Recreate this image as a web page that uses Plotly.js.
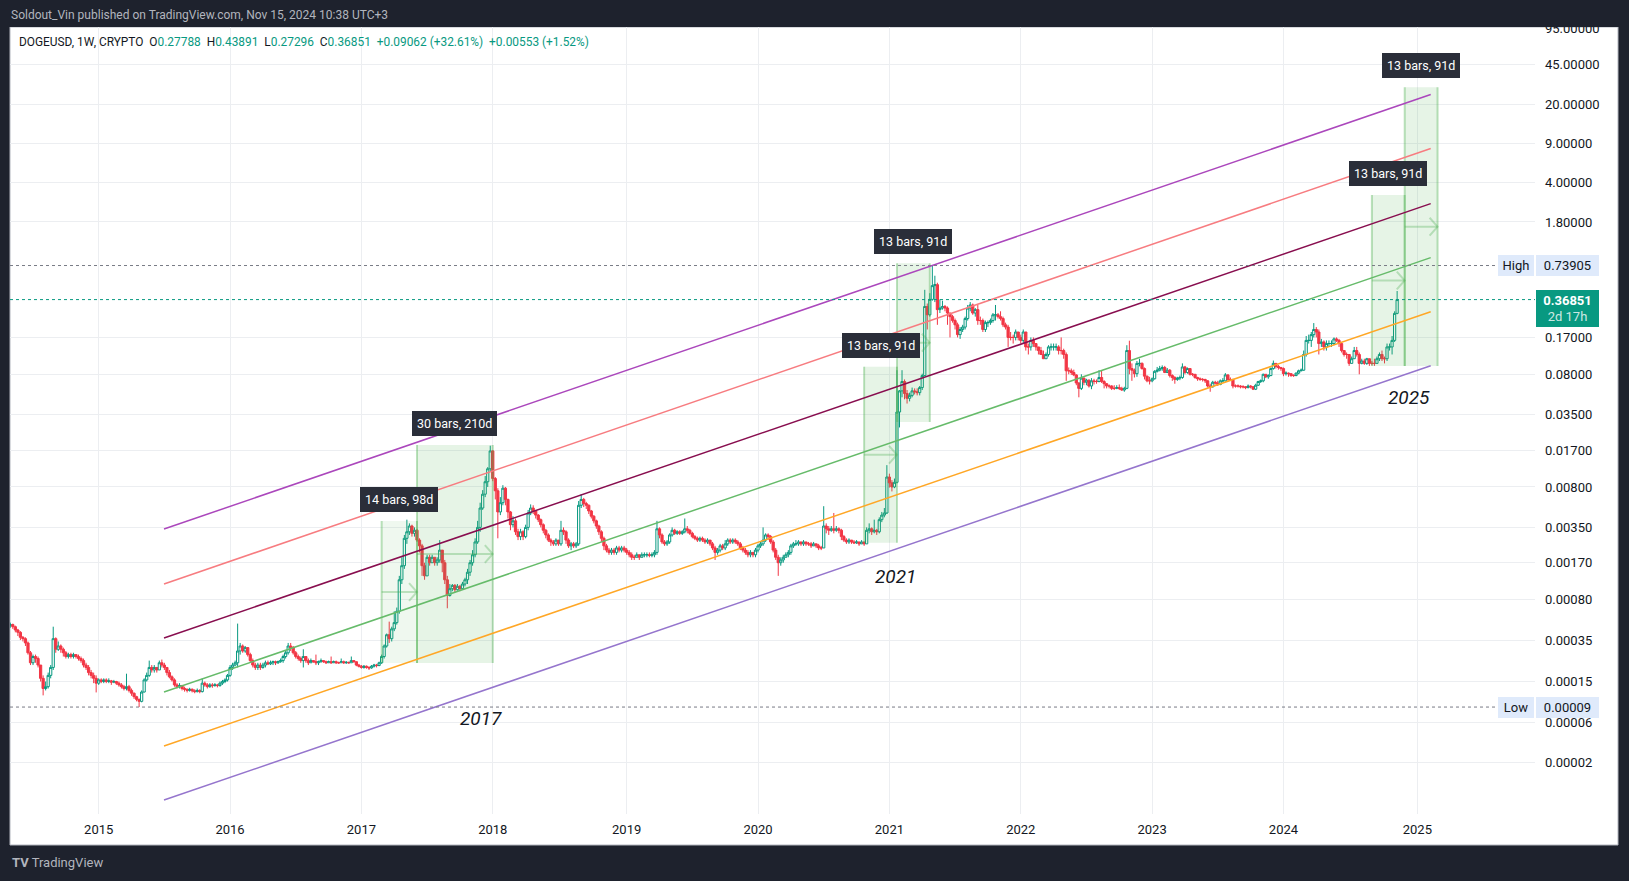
<!DOCTYPE html>
<html>
<head>
<meta charset="utf-8">
<script src="https://cdn.plot.ly/plotly-3.0.1.min.js"></script>
<style>
html,body{margin:0;padding:0;background:#1e222d;overflow:hidden;}
#chart{width:1629px;height:881px;}
</style>
</head>
<body>
<div id="chart"></div>
<script>
// ---------------- DATA ----------------
const publishedText = 'Soldout_Vin published on TradingView.com, Nov 15, 2024 10:38 UTC+3';
const symbolTitle = 'DOGEUSD, 1W, CRYPTO';
const headerKeys = ['O', 'H', 'L', 'C'];
const headerVals = ['0.27788', '0.43891', '0.27296', '0.36851'];
const changeText = ['+0.09062 (+32.61%)', '+0.00553 (+1.52%)'];
const countdownText = '2d 17h';

const weekStart = '2014-04-28';   // first weekly bar (Monday)
const firstOpen = 0.0005;

const close = [
0.00047,0.00048,0.00046,0.00043,0.00041,0.00037,0.00036,0.00033,0.00027,0.00022,
0.00025,0.00024,0.00021,0.00016,0.00013,0.000135,0.00017,0.0002,0.00036,0.00029,
0.00031,0.00029,0.00027,0.00025,0.00026,0.00025,0.00026,0.00025,0.00024,0.00023,
0.00021,0.0002,0.00018,0.00017,0.00016,0.000145,0.000155,0.00015,0.000155,0.00015,
0.000152,0.000148,0.00015,0.000145,0.00014,0.000135,0.00013,0.000135,0.000125,0.000118,
0.00011,0.000104,0.0001,0.000121,0.000155,0.00017,0.0002,0.00019,0.0002,0.00019,
0.00022,0.00021,0.0002,0.00018,0.000165,0.000155,0.00014,0.000135,0.000138,0.00013,
0.000128,0.000125,0.000128,0.000124,0.000122,0.000125,0.000122,0.000145,0.00014,0.000135,
0.00014,0.000138,0.00014,0.000138,0.000145,0.00015,0.000155,0.00017,0.0002,0.00021,
0.00022,0.00028,0.00031,0.00028,0.0003,0.00026,0.00023,0.00021,0.0002,0.00021,0.0002,
0.00021,0.00022,0.000215,0.00022,0.000225,0.00022,0.000225,0.00023,0.00025,0.00027,
0.00031,0.0003,0.00027,0.00025,0.00024,0.00023,0.00025,0.00023,0.00022,0.00023,
0.000225,0.00022,0.000225,0.00023,0.000225,0.00022,0.000225,0.00022,0.000225,0.00022,
0.00022,0.000225,0.00022,0.000222,0.00022,0.00023,0.000225,0.00021,0.000205,
0.0002,0.000205,0.0002,0.000198,0.000205,0.00021,0.000208,0.00022,0.00025,0.00031,
0.00039,0.00036,0.00044,0.0005,0.00063,0.0012,0.0016,0.0028,0.0032,0.0036,
0.0031,0.0033,0.0027,0.0024,0.0016,0.0013,0.0019,0.0017,0.0019,0.0017,
0.0018,0.0022,0.0017,0.0012,0.00087,0.001,0.00107,0.00098,0.00105,0.001,
0.0011,0.0012,0.0014,0.0017,0.002,0.0026,0.0035,0.0052,0.0069,0.0089,
0.0116,0.0167,0.0095,0.0074,0.0048,0.0058,0.0078,0.0062,0.0048,0.0037,
0.004,0.0032,0.0029,0.0032,0.0029,0.0035,0.0047,0.0052,0.0049,0.0045,
0.0041,0.0037,0.0033,0.003,0.0027,0.0026,0.0025,0.0027,0.0025,0.0033,
0.0032,0.0027,0.0024,0.0025,0.0024,0.0025,0.0055,0.0062,0.0057,0.0055,
0.0049,0.0044,0.004,0.0036,0.0032,0.0028,0.0024,0.0022,0.0021,0.0022,
0.0021,0.0023,0.0022,0.0023,0.0022,0.0021,0.002,0.0019,0.0019,0.002,
0.0019,0.002,0.002,0.002,0.00198,0.002,0.0021,0.0034,0.003,0.0026,
0.0025,0.0026,0.003,0.0033,0.0031,0.0032,0.0031,0.0032,0.0034,0.0033,
0.0031,0.0029,0.0028,0.0027,0.0028,0.0027,0.0026,0.0027,0.0025,0.0023,
0.0021,0.0022,0.0024,0.0023,0.0025,0.0027,0.0026,0.0027,0.0026,0.0025,
0.0023,0.0022,0.0021,0.002,0.0021,0.002,0.0022,0.0024,0.0025,0.0027,
0.003,0.0029,0.0026,0.0022,0.0019,0.0017,0.0018,0.0019,0.002,0.0021,
0.0024,0.0025,0.0025,0.0026,0.0025,0.0026,0.0025,0.0025,0.0024,0.0025,
0.0024,0.0023,0.0023,0.0036,0.0034,0.0033,0.0034,0.0033,0.0034,0.0033,
0.0029,0.0027,0.0026,0.0027,0.0026,0.00255,0.0026,0.0025,0.0026,0.0025,
0.0033,0.0034,0.0032,0.0033,0.0032,0.0041,0.0045,0.0047,0.0098,0.0087,
0.008,0.0088,0.037,0.057,0.069,0.054,0.049,0.052,0.057,0.056,
0.055,0.061,0.078,0.32,0.27,0.37,0.49,0.5,0.3,0.31,
0.32,0.31,0.28,0.26,0.24,0.22,0.18,0.2,0.21,0.25,
0.31,0.33,0.28,0.3,0.24,0.24,0.2,0.23,0.23,0.24,
0.27,0.27,0.26,0.25,0.22,0.21,0.17,0.17,0.17,0.19,
0.17,0.16,0.19,0.14,0.14,0.16,0.15,0.14,0.13,0.12,
0.11,0.12,0.14,0.14,0.14,0.14,0.13,0.13,0.12,0.086,
0.086,0.083,0.079,0.067,0.06,0.074,0.068,0.071,0.063,0.07,
0.069,0.069,0.075,0.069,0.066,0.063,0.063,0.06,0.06,0.061,
0.06,0.058,0.06,0.13,0.09,0.087,0.081,0.1,0.1,0.09,
0.077,0.07,0.07,0.073,0.085,0.087,0.09,0.092,0.083,0.087,
0.078,0.075,0.072,0.074,0.075,0.093,0.083,0.09,0.08,0.08,
0.075,0.073,0.072,0.072,0.07,0.063,0.062,0.068,0.067,0.065,
0.07,0.07,0.079,0.072,0.072,0.063,0.063,0.063,0.062,0.062,
0.061,0.063,0.062,0.059,0.064,0.069,0.07,0.08,0.076,0.078,
0.09,0.1,0.094,0.092,0.09,0.081,0.082,0.081,0.078,0.078,
0.082,0.086,0.087,0.12,0.16,0.16,0.18,0.2,0.19,0.15,
0.155,0.14,0.15,0.15,0.15,0.165,0.16,0.15,0.13,0.12,
0.12,0.1,0.11,0.13,0.12,0.1,0.105,0.1,0.11,0.1,
0.1,0.1,0.11,0.12,0.11,0.11,0.14,0.14,0.16,0.27788,
0.36851
];
const high = [
0.00052,0.0005,0.00049,0.00047,0.00044,0.00042,0.00038,0.00037,0.00034,0.00028,
0.00026,0.00026,0.00025,0.00021,0.00017,0.00015,0.00018,0.00021,0.00046,0.00037,
0.00034,0.00032,0.0003,0.00028,0.00027,0.00027,0.00027,0.00026,0.00026,0.00025,
0.00024,0.00022,0.00021,0.00019,0.00018,0.00017,0.00016,0.00016,0.00016,0.00016,
0.00016,0.000155,0.000155,0.000152,0.00015,0.000145,0.00014,0.000176,0.00014,0.00013,
0.00012,0.000112,0.000106,0.000125,0.00016,0.00018,0.00023,0.00021,0.00021,0.0002,
0.00023,0.000235,0.00022,0.0002,0.00019,0.00017,0.00016,0.000145,0.000145,0.00014,
0.000135,0.00013,0.000132,0.00013,0.000128,0.00013,0.000128,0.00016,0.00015,0.000145,
0.000145,0.000145,0.000145,0.000143,0.00015,0.000155,0.00016,0.000175,0.00021,0.00022,
0.00023,0.00049,0.00033,0.00032,0.00031,0.0003,0.00027,0.00024,0.00022,0.00022,0.00022,
0.00022,0.00023,0.00023,0.00023,0.00023,0.00023,0.00023,0.00024,0.00026,0.00028,
0.00033,0.00033,0.00031,0.00028,0.00026,0.00025,0.00029,0.00025,0.00024,0.00024,
0.00023,0.00026,0.00023,0.00024,0.00023,0.00023,0.00023,0.00025,0.00023,0.00023,
0.000225,0.00024,0.00023,0.000228,0.000225,0.00025,0.00023,0.000225,0.000215,
0.00021,0.00021,0.000208,0.000205,0.00021,0.000215,0.000215,0.000225,0.00026,0.00032,
0.0004,0.00051,0.00046,0.00063,0.00068,0.0013,0.0019,0.003,0.0041,0.0038,
0.0037,0.0035,0.0034,0.0028,0.0025,0.0017,0.002,0.002,0.002,0.0019,
0.0019,0.0027,0.0022,0.0018,0.0013,0.0011,0.0011,0.0011,0.0011,0.00108,
0.00115,0.00125,0.0015,0.0018,0.0022,0.0028,0.004,0.0058,0.0075,0.01,
0.012,0.0186,0.017,0.0098,0.0078,0.0065,0.0083,0.008,0.0063,0.0049,
0.0044,0.0042,0.0034,0.0034,0.0033,0.0037,0.005,0.0056,0.0055,0.005,
0.0046,0.0042,0.0038,0.0034,0.0031,0.0028,0.0027,0.0028,0.0027,0.004,
0.0035,0.0033,0.0028,0.0026,0.0026,0.0026,0.006,0.0069,0.0064,0.0059,
0.0056,0.005,0.0045,0.0041,0.0037,0.0033,0.0029,0.0025,0.0023,0.0023,
0.0023,0.0024,0.0024,0.0024,0.0024,0.0023,0.0022,0.0021,0.002,0.0021,
0.002,0.0021,0.0021,0.0021,0.0021,0.0021,0.0022,0.004,0.0035,0.0031,
0.0027,0.0027,0.0031,0.0035,0.0034,0.0033,0.0033,0.0033,0.0042,0.0036,
0.0034,0.0032,0.003,0.0029,0.0029,0.0029,0.0028,0.0028,0.0027,0.0026,
0.0024,0.0023,0.0025,0.0025,0.0027,0.0028,0.0028,0.0028,0.0028,0.0027,
0.0026,0.0024,0.0023,0.0022,0.0022,0.0021,0.0023,0.0025,0.0026,0.0035,
0.0031,0.0031,0.003,0.0027,0.0023,0.002,0.0019,0.002,0.0021,0.0022,
0.0025,0.0026,0.0027,0.0027,0.0026,0.0027,0.0026,0.0026,0.0026,0.0026,
0.0025,0.0025,0.0024,0.0054,0.0038,0.0036,0.0036,0.0047,0.0036,0.0035,
0.0034,0.003,0.0028,0.0028,0.0027,0.0027,0.0027,0.0026,0.0027,0.0026,
0.0035,0.0038,0.0035,0.0041,0.0034,0.0043,0.0048,0.0052,0.0125,0.0105,
0.0092,0.0095,0.087,0.058,0.087,0.072,0.058,0.055,0.061,0.06,
0.06,0.063,0.081,0.45,0.34,0.42,0.73905,0.6,0.52,0.37,
0.36,0.33,0.32,0.28,0.27,0.25,0.23,0.21,0.22,0.26,
0.33,0.35,0.34,0.31,0.33,0.26,0.25,0.24,0.24,0.25,
0.28,0.33,0.28,0.29,0.26,0.23,0.22,0.19,0.18,0.2,
0.19,0.18,0.2,0.19,0.15,0.17,0.17,0.15,0.14,0.14,
0.13,0.125,0.145,0.15,0.15,0.15,0.145,0.17,0.135,0.125,
0.092,0.09,0.088,0.08,0.068,0.08,0.075,0.073,0.072,0.074,
0.073,0.072,0.087,0.087,0.071,0.067,0.065,0.064,0.064,0.064,
0.065,0.062,0.062,0.145,0.159,0.1,0.09,0.105,0.11,0.102,
0.092,0.078,0.076,0.075,0.087,0.093,0.095,0.096,0.095,0.091,
0.089,0.08,0.077,0.076,0.078,0.1,0.095,0.092,0.09,0.082,
0.08,0.076,0.075,0.074,0.073,0.071,0.066,0.07,0.07,0.07,
0.072,0.074,0.082,0.08,0.075,0.073,0.065,0.065,0.064,0.064,
0.063,0.065,0.064,0.063,0.066,0.07,0.072,0.081,0.08,0.08,
0.092,0.106,0.1,0.097,0.093,0.092,0.085,0.083,0.082,0.08,
0.083,0.088,0.09,0.13,0.175,0.18,0.19,0.228,0.21,0.2,
0.165,0.16,0.16,0.16,0.16,0.17,0.17,0.165,0.15,0.13,
0.125,0.12,0.115,0.14,0.14,0.125,0.11,0.11,0.112,0.11,
0.105,0.11,0.115,0.125,0.13,0.115,0.15,0.15,0.175,0.29,
0.43891
];
const low = [
0.00045,0.00045,0.00044,0.00041,0.00038,0.00035,0.00034,0.00031,0.00026,0.00021,
0.00021,0.00022,0.0002,0.00015,0.000113,0.000125,0.00013,0.00016,0.00019,0.00027,
0.00028,0.00027,0.00025,0.00024,0.00024,0.00024,0.00024,0.00024,0.00023,0.00022,
0.0002,0.00019,0.00017,0.00016,0.000145,0.00012,0.00014,0.000145,0.000145,0.000145,
0.000145,0.00014,0.000145,0.00014,0.000135,0.00013,0.000125,0.000125,0.00012,0.000112,
0.000105,0.0001,0.000089,0.000098,0.00012,0.00015,0.000165,0.00018,0.00018,0.00018,
0.00019,0.0002,0.00019,0.00017,0.00016,0.00015,0.000135,0.00013,0.00013,0.000125,
0.000122,0.00012,0.000122,0.00012,0.000118,0.00012,0.000118,0.00012,0.000135,0.00013,
0.000132,0.000132,0.000135,0.000133,0.000135,0.00014,0.000145,0.00015,0.000165,0.00019,
0.000205,0.0002,0.00026,0.00027,0.00027,0.00025,0.00022,0.0002,0.00019,0.00019,0.00019,
0.000195,0.0002,0.00021,0.00021,0.00021,0.00021,0.000215,0.00022,0.00022,0.00024,
0.00026,0.00028,0.00026,0.00024,0.00023,0.00022,0.0002,0.00022,0.00021,0.00022,
0.00022,0.00021,0.00021,0.00022,0.00022,0.000215,0.00022,0.000215,0.00022,0.000215,
0.000215,0.00022,0.000215,0.000215,0.000215,0.00022,0.00022,0.000205,0.0002,
0.000195,0.000195,0.000195,0.00019,0.000195,0.0002,0.0002,0.000205,0.000215,0.00024,
0.0003,0.00033,0.00034,0.00042,0.00048,0.0006,0.0011,0.0015,0.0025,0.003,
0.0029,0.0029,0.0026,0.0021,0.0013,0.0012,0.0013,0.0016,0.0017,0.0016,
0.0016,0.0017,0.0014,0.0011,0.00067,0.00085,0.00095,0.00093,0.00096,0.00095,
0.00098,0.00105,0.0011,0.0013,0.0016,0.0019,0.0025,0.0032,0.005,0.0065,
0.008,0.011,0.009,0.0062,0.0028,0.0045,0.0055,0.0055,0.0042,0.0033,
0.0035,0.003,0.0027,0.0027,0.0027,0.0028,0.0033,0.0045,0.0046,0.0042,
0.0039,0.0035,0.0031,0.0028,0.0026,0.0024,0.0024,0.0024,0.0024,0.0024,
0.003,0.0025,0.0023,0.0022,0.0023,0.0023,0.0024,0.0052,0.0053,0.0051,
0.0046,0.0042,0.0038,0.0034,0.003,0.0026,0.0022,0.0021,0.002,0.002,
0.002,0.002,0.0021,0.0021,0.0021,0.002,0.0019,0.0018,0.0018,0.0019,
0.0018,0.0019,0.0019,0.0019,0.0019,0.0019,0.0019,0.002,0.0028,0.0025,
0.0024,0.0024,0.0025,0.0029,0.003,0.003,0.003,0.003,0.0031,0.0031,
0.003,0.0028,0.0027,0.0026,0.0026,0.0026,0.0025,0.0025,0.0024,0.0022,
0.0018,0.002,0.0021,0.0022,0.0022,0.0024,0.0025,0.0025,0.0025,0.0024,
0.0022,0.0021,0.002,0.0019,0.0019,0.0019,0.0019,0.0021,0.0023,0.0024,
0.0026,0.0027,0.0025,0.0021,0.0018,0.0013,0.0016,0.0017,0.0019,0.0019,
0.002,0.0023,0.0024,0.0024,0.0024,0.0024,0.0024,0.0024,0.0023,0.0024,
0.0023,0.0022,0.0022,0.0023,0.0031,0.003,0.0032,0.0031,0.0032,0.0031,
0.0027,0.0026,0.0025,0.0025,0.0025,0.0025,0.0025,0.0024,0.0025,0.0024,
0.0025,0.0031,0.003,0.0031,0.003,0.0031,0.0039,0.0043,0.0046,0.0079,
0.0073,0.0078,0.0086,0.027,0.05,0.048,0.044,0.046,0.05,0.053,
0.052,0.052,0.058,0.077,0.2,0.26,0.36,0.35,0.22,0.28,
0.3,0.29,0.22,0.17,0.23,0.2,0.17,0.165,0.19,0.2,
0.24,0.29,0.27,0.26,0.22,0.22,0.19,0.19,0.21,0.22,
0.23,0.24,0.25,0.24,0.21,0.2,0.14,0.16,0.15,0.16,
0.16,0.15,0.15,0.13,0.12,0.13,0.14,0.13,0.12,0.12,
0.11,0.11,0.115,0.13,0.13,0.13,0.12,0.12,0.11,0.07,
0.08,0.079,0.077,0.064,0.05,0.058,0.064,0.064,0.061,0.059,
0.065,0.066,0.068,0.067,0.06,0.06,0.06,0.058,0.058,0.059,
0.058,0.057,0.056,0.059,0.08,0.07,0.075,0.076,0.094,0.088,
0.072,0.068,0.065,0.068,0.072,0.083,0.085,0.086,0.082,0.082,
0.075,0.07,0.066,0.07,0.071,0.073,0.08,0.081,0.078,0.077,
0.073,0.07,0.07,0.069,0.067,0.061,0.056,0.061,0.065,0.063,
0.064,0.068,0.069,0.07,0.07,0.06,0.061,0.061,0.06,0.06,
0.059,0.06,0.06,0.058,0.058,0.063,0.067,0.068,0.074,0.073,
0.077,0.088,0.09,0.088,0.086,0.077,0.078,0.076,0.076,0.076,
0.077,0.08,0.085,0.086,0.115,0.15,0.14,0.17,0.17,0.12,
0.14,0.13,0.13,0.14,0.14,0.145,0.155,0.14,0.125,0.115,
0.11,0.095,0.1,0.11,0.115,0.08,0.098,0.097,0.097,0.095,
0.096,0.095,0.1,0.105,0.105,0.1,0.105,0.13,0.12,0.155,
0.27296
];

// time-axis labels (first weekly bar of each year)
const yearTickDates = ['2015-01-05','2016-01-04','2017-01-02','2018-01-01','2019-01-07','2020-01-06','2021-01-04','2022-01-03','2023-01-02','2024-01-01','2025-01-06'];
const yearTickText  = ['2015','2016','2017','2018','2019','2020','2021','2022','2023','2024','2025'];

// price-axis labels
const priceTickVals = [95,45,20,9,4,1.8,0.17,0.08,0.035,0.017,0.008,0.0035,0.0017,0.0008,0.00035,0.00015,0.0000655,0.0000284];
const priceTickText = ['95.00000','45.00000','20.00000','9.00000','4.00000','1.80000','0.17000','0.08000','0.03500','0.01700','0.00800','0.00350','0.00170','0.00080','0.00035','0.00015','0.00006','0.00002'];

// parallel channel (6 lines)
const channelFrom = '2015-07-05';
const channelTo = '2025-02-12';
const channelFromPrice = [0.003386,0.0011,0.000365,0.000121,0.0000401,0.0000133];
const channelToPrice   = [24.37,8.08,2.62,0.869,0.2876,0.0954];
const channelColor = ['#ab47bc','#f77c80','#880e4f','#66bb6a','#ffa726','#9575cd'];

// date-range measurements
const rangeFrom  = ['2017-02-27','2017-06-05','2020-10-26','2021-01-25','2024-09-02','2024-12-02'];
const rangeTo    = ['2017-06-05','2018-01-01','2021-01-25','2021-04-26','2024-12-02','2025-03-03'];
const rangeLow   = [0.000219,0.000219,0.00256,0.0302,0.0948,0.0948];
const rangeHigh  = [0.00399,0.01886,0.0934,0.7734,3.124,28.24];
const rangeLabel = ['14 bars, 98d','30 bars, 210d','13 bars, 91d','13 bars, 91d','13 bars, 91d','13 bars, 91d'];

// italic year captions
const captionText  = ['2017','2021','2025'];
const captionDate  = ['2017-11-29','2021-01-20','2024-12-13'];
const captionPrice = [0.0000711,0.00128,0.0493];

// ---------------- BUILD ----------------
const FONT = 'Roboto, "Open Sans", "DejaVu Sans", sans-serif';
const GREEN = '#089981', RED = '#f23645', DARK = '#1e222d', TXT = '#131722';
const DAY = 86400000;
const W = 1629, H = 881, ML = 10, MR = 94, MT = 27, MB = 67;
const PW = W - ML - MR, PH = H - MT - MB;
const px2x = p => (p - ML) / PW;
const py2y = p => (H - MB - p) / PH;
const toMs = s => Date.parse(s.length <= 10 ? s + 'T00:00:00Z' : s.replace(' ', 'T') + 'Z');
const fromMs = ms => new Date(ms).toISOString().slice(0, 19).replace('T', ' ');

const dates = close.map((_, i) => fromMs(toMs(weekStart) + i * 7 * DAY).slice(0, 10));
const open = close.map((c, i) => i === 0 ? firstOpen : close[i - 1]);
const maxHigh = Math.max(...high);
const minLow = Math.min(...low);
const lastClose = close[close.length - 1];

const traces = [];
traces.push({
  type: 'candlestick', x: dates, open: open, high: high, low: low, close: close,
  increasing: {line: {color: GREEN, width: 1}, fillcolor: '#ffffff'},
  decreasing: {line: {color: RED, width: 1}, fillcolor: RED},
  whiskerwidth: 0, hoverinfo: 'skip', showlegend: false
});

// date ranges
const RFILL = 'rgba(76,175,80,0.14)', REDGE = 'rgba(76,175,80,0.38)', RARROW = 'rgba(76,175,80,0.32)';
rangeFrom.forEach((s, k) => {
  const e = rangeTo[k], lo = rangeLow[k], hi = rangeHigh[k];
  traces.push({type: 'scatter', mode: 'none', x: [s, e, e, s, s], y: [lo, lo, hi, hi, lo],
    fill: 'toself', fillcolor: k === 0 ? 'rgba(76,175,80,0.09)' : RFILL, hoverinfo: 'skip', showlegend: false});
  traces.push({type: 'scatter', mode: 'lines', x: [s, s, null, e, e], y: [lo, hi, null, lo, hi],
    line: {color: REDGE, width: 2}, hoverinfo: 'skip', showlegend: false, connectgaps: false});
  const mid = Math.sqrt(lo * hi);
  const back = fromMs(toMs(e) - 22 * DAY);
  traces.push({type: 'scatter', mode: 'lines', x: [s, e], y: [mid, mid],
    line: {color: RARROW, width: 2}, hoverinfo: 'skip', showlegend: false});
  traces.push({type: 'scatter', mode: 'lines', x: [back, e, back], y: [mid * 1.2, mid, mid / 1.2],
    line: {color: RARROW, width: 2}, hoverinfo: 'skip', showlegend: false});
});

// channel lines
channelColor.forEach((c, k) => {
  traces.push({type: 'scatter', mode: 'lines', x: [channelFrom, channelTo],
    y: [channelFromPrice[k], channelToPrice[k]], line: {color: c, width: 1.5},
    hoverinfo: 'skip', showlegend: false});
});

// ---- shapes ----
const shapes = [
  {type: 'rect', xref: 'paper', yref: 'paper', x0: px2x(10), x1: px2x(1618), y0: py2y(845), y1: py2y(27),
   fillcolor: '#ffffff', line: {width: 1, color: '#b2b5be'}, layer: 'below'},
  {type: 'line', xref: 'paper', yref: 'y', x0: 0, x1: px2x(1498), y0: maxHigh, y1: maxHigh,
   line: {color: '#787b86', width: 1, dash: 'dot'}},
  {type: 'line', xref: 'paper', yref: 'y', x0: 0, x1: px2x(1498), y0: minLow, y1: minLow,
   line: {color: '#787b86', width: 1, dash: 'dot'}},
  {type: 'line', xref: 'paper', yref: 'y', x0: 0, x1: 1, y0: lastClose, y1: lastClose,
   line: {color: GREEN, width: 1, dash: 'dot'}},
  {type: 'rect', xref: 'paper', yref: 'paper', x0: px2x(0) - 0.01, x1: px2x(W) + 0.01, y0: 1, y1: py2y(-2),
   fillcolor: DARK, line: {width: 0}, layer: 'above'}
];

// ---- annotations ----
const ann = [];
ann.push({xref: 'paper', yref: 'paper', x: px2x(9), y: py2y(14.5), xanchor: 'left', yanchor: 'middle',
  text: publishedText, showarrow: false, font: {family: FONT, size: 12, color: '#b2b5be'}});

let hdr = symbolTitle + '&nbsp;&nbsp;';
headerKeys.forEach((k, i) => { hdr += k + '<span style="color:' + GREEN + '">' + headerVals[i] + '</span>&nbsp;&nbsp;'; });
hdr += '<span style="color:' + GREEN + '">' + changeText[0] + '&nbsp;&nbsp;' + changeText[1] + '</span>';
ann.push({xref: 'paper', yref: 'paper', x: px2x(17), y: py2y(41.5), xanchor: 'left', yanchor: 'middle',
  text: hdr, showarrow: false, font: {family: FONT, size: 11.9, color: TXT}});

ann.push({xref: 'paper', yref: 'paper', x: px2x(10), y: py2y(862), xanchor: 'left', yanchor: 'middle',
  text: '<b>TV</b> TradingView', showarrow: false, font: {family: FONT, size: 13, color: '#b2b5be'}});

captionText.forEach((t, k) => {
  ann.push({xref: 'x', yref: 'y', x: captionDate[k], y: Math.log10(captionPrice[k]), xanchor: 'center', yanchor: 'middle',
    text: '<i>' + t + '</i>', showarrow: false, font: {family: FONT, size: 19, color: TXT}});
});

rangeLabel.forEach((t, k) => {
  const midDate = fromMs((toMs(rangeFrom[k]) + toMs(rangeTo[k])) / 2);
  ann.push({xref: 'x', yref: 'y', x: midDate, y: Math.log10(rangeHigh[k]), xanchor: 'center', yanchor: 'bottom',
    yshift: 9, text: t, showarrow: false, bgcolor: '#2a2e39', borderpad: 5, borderwidth: 0,
    font: {family: FONT, size: 12.5, color: '#ffffff'}});
});

const LBL = '#dfeafb';
function sideBox(val, text, bg, color, extra) {
  return Object.assign({xref: 'paper', yref: 'y', x: px2x(1536), y: Math.log10(val), xanchor: 'left', yanchor: 'middle',
    width: 59, height: 17, borderpad: 2, borderwidth: 0, bgcolor: bg, align: 'center',
    text: text, showarrow: false, font: {family: FONT, size: 13, color: color}}, extra || {});
}
function nameBox(val, text) {
  return {xref: 'paper', yref: 'y', x: px2x(1534), y: Math.log10(val), xanchor: 'right', yanchor: 'middle',
    width: 32, height: 17, borderpad: 2, borderwidth: 0, bgcolor: LBL, align: 'center',
    text: text, showarrow: false, font: {family: FONT, size: 13, color: TXT}};
}
ann.push(nameBox(maxHigh, 'High'));
ann.push(sideBox(maxHigh, maxHigh.toFixed(5), LBL, TXT));
ann.push(nameBox(minLow, 'Low'));
ann.push(sideBox(minLow, minLow.toFixed(5), LBL, TXT));
ann.push(sideBox(lastClose, '<b>' + lastClose.toFixed(5) + '</b><br><span style="color:rgba(255,255,255,0.8)">' + countdownText + '</span>',
  GREEN, '#ffffff', {yanchor: 'top', yshift: 10, height: 33}));

const GRID = '#eceef1';
const layout = {
  width: W, height: H,
  margin: {l: ML, r: MR, t: MT, b: MB, pad: 0},
  paper_bgcolor: DARK, plot_bgcolor: '#ffffff',
  showlegend: false, hovermode: false, dragmode: false,
  font: {family: FONT, color: TXT, size: 13},
  boxgap: 0.12, boxgroupgap: 0,
  xaxis: {type: 'date', range: ['2014-05-04 05:00', '2025-11-28'], tickmode: 'array',
    tickvals: yearTickDates, ticktext: yearTickText, showgrid: true, gridcolor: GRID, gridwidth: 1,
    zeroline: false, showline: false, ticks: '', ticklabelstandoff: 6,
    tickfont: {family: FONT, size: 13, color: TXT}, rangeslider: {visible: false}, fixedrange: true},
  yaxis: {type: 'log', side: 'right', range: [-5.0, 1.9861], tickmode: 'array',
    tickvals: priceTickVals, ticktext: priceTickText, showgrid: true, gridcolor: GRID, gridwidth: 1,
    zeroline: false, showline: false, ticks: '', ticklabelstandoff: 9,
    tickfont: {family: FONT, size: 13, color: TXT}, fixedrange: true},
  shapes: shapes,
  annotations: ann
};

Plotly.newPlot('chart', traces, layout, {displayModeBar: false, staticPlot: true});
</script>
</body>
</html>
